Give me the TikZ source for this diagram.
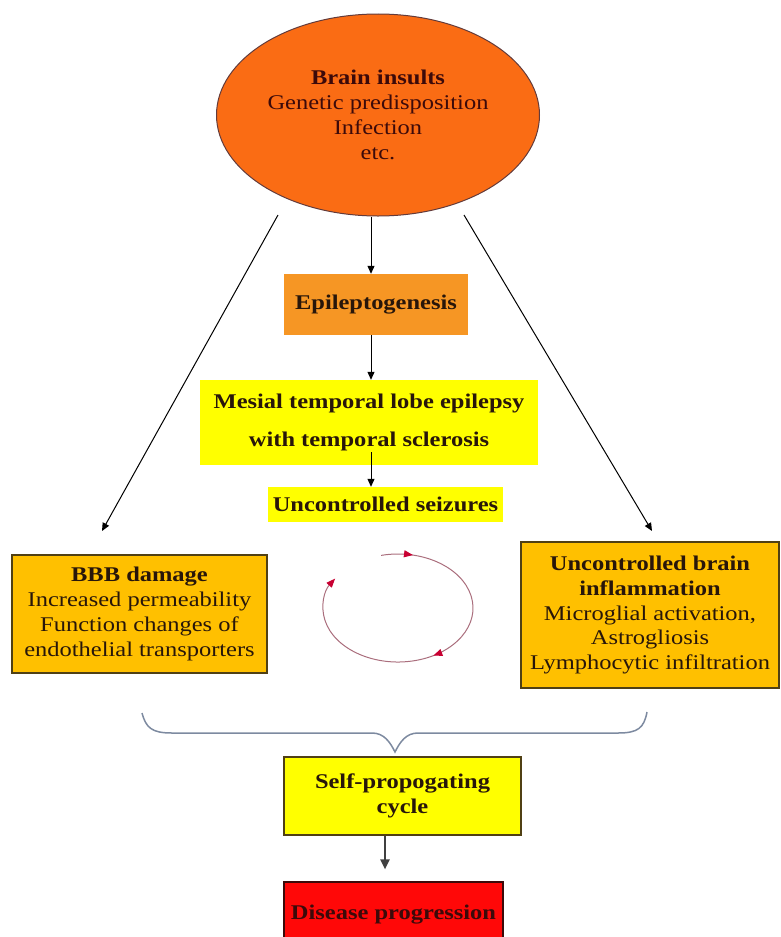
\documentclass[tikz,border=0pt]{standalone}
\usepackage{fontspec}
\setmainfont{Liberation Serif}[FakeStretch=1.17]
\usetikzlibrary{arrows.meta,shapes.geometric,decorations.markings}

\definecolor{insultorange}{RGB}{250,108,20}
\definecolor{epiorange}{RGB}{246,150,36}
\definecolor{lemon}{RGB}{255,255,0}
\definecolor{gold}{RGB}{255,192,0}
\definecolor{alarm}{RGB}{255,8,8}
\definecolor{boxline}{RGB}{80,64,20}
\definecolor{inktext}{RGB}{40,22,10}
\definecolor{redtext}{RGB}{60,10,10}
\definecolor{bracegray}{RGB}{125,138,160}
\definecolor{cycleline}{RGB}{170,110,125}
\definecolor{cyclehead}{RGB}{200,0,50}

\tikzset{
  txt/.style={font=\fontsize{21}{25}\selectfont, text=inktext, align=center, inner sep=0pt},
  plainbox/.style={txt, rectangle, fill=lemon},
  goldbox/.style={txt, rectangle, fill=gold, draw=boxline, line width=1.6bp},
  arr/.style={draw=black, line width=1bp, -{Triangle[length=8bp,width=7bp]}},
  thickarr/.style={draw=black!75, line width=2bp, -{Triangle[length=10bp,width=9bp]}},
  cyctip/.style={-{Triangle[length=9bp,width=7bp,color=cyclehead]}},
}

\begin{document}
\begin{tikzpicture}[x=1bp,y=-1bp]
\useasboundingbox (0,0) rectangle (781,937);
\clip (0,0) rectangle (781,937);

% causes
\node[ellipse, fill=insultorange, draw=redtext!80, line width=1bp,
      minimum width=323bp, minimum height=202bp, inner sep=0pt,
      txt, text=redtext] (ins) at (378,115)
  {\textbf{Brain insults}\\Genetic predisposition\\Infection\\etc.};

% central chain
\node[txt, fill=epiorange, minimum width=184bp, minimum height=61bp] (epi) at (376,304.5)
  {\textbf{Epileptogenesis}};
\node[plainbox, minimum width=338bp, minimum height=85bp,
      font=\fontsize{21}{38}\selectfont] (mes) at (369,422.5)
  {\textbf{Mesial temporal lobe epilepsy}\\\textbf{with temporal sclerosis}};
\node[plainbox, minimum width=235bp, minimum height=35bp] (seiz) at (385.5,504.5)
  {\textbf{Uncontrolled seizures}};

% consequences
\node[goldbox, minimum width=255bp, minimum height=118bp] (bbb) at (139.5,614)
  {\textbf{BBB damage}\\Increased permeability\\Function changes of\\endothelial transporters};
\node[goldbox, minimum width=258bp, minimum height=146bp] (infl) at (650,615)
  {\textbf{Uncontrolled brain}\\\textbf{inflammation}\\Microglial activation,\\Astrogliosis\\Lymphocytic infiltration};

% outcome
\node[plainbox, draw=boxline, line width=1.6bp, minimum width=237bp, minimum height=78bp] (self) at (402.5,796)
  {\textbf{Self-propogating}\\\textbf{cycle}};
\node[txt, fill=alarm, draw=redtext, line width=1.2bp, text=redtext,
      minimum width=219bp, minimum height=66bp] (dis) at (393.5,915)
  {\textbf{Disease progression}};

% connectors
\coordinate (trunk) at (371,0);
\coordinate (ls) at (278,215);
\coordinate (le) at (102,531);
\coordinate (rs) at (464,215);
\coordinate (re) at (652,531);
\coordinate (mesout) at (371,452);
\coordinate (selfdrop) at (385,0);

\draw[arr] (ins.south -| trunk) -- (epi.north -| trunk);
\draw[arr] (epi.south -| trunk) -- (mes.north -| trunk);
\draw[arr] (mesout) -- (seiz.north -| mesout);
\draw[arr] (ls) -- (le);
\draw[arr] (rs) -- (re);
\draw[thickarr, shorten >=12bp] (self.south -| selfdrop) -- (dis.north -| selfdrop);

% vicious cycle between the two consequences
\coordinate (cyc) at (398,608);
\draw[cycleline, line width=1bp, cyctip,
      decoration={markings,
        mark=at position 0.09 with {\arrow[cyclehead]{Triangle[length=9bp,width=7bp]}},
        mark=at position 0.52 with {\arrow[cyclehead]{Triangle[length=9bp,width=7bp]}}},
      postaction={decorate}]
  ([shift={(-103:75 and 54)}]cyc) arc[start angle=-103, end angle=213, x radius=75, y radius=54];

% brace gathering both consequences
\draw[bracegray, line width=1.5bp]
  (142,713) .. controls (146,728) and (152,733) .. (172,733)
  -- (372,733) .. controls (384,733) and (390,742) .. (395,752)
  .. controls (400,742) and (406,733) .. (418,733)
  -- (618,733) .. controls (638,733) and (644,728) .. (647,712);
\end{tikzpicture}
\end{document}
